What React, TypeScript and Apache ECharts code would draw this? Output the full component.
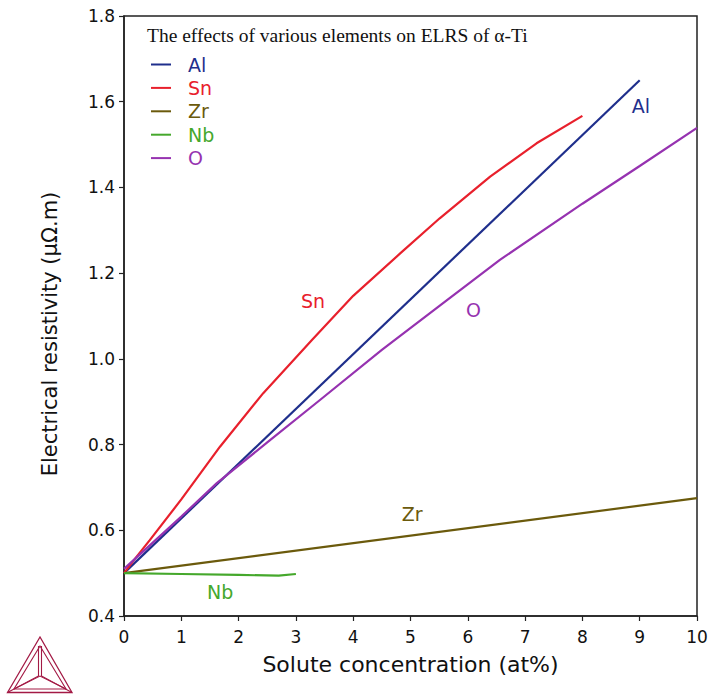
import React, { useEffect, useRef } from "react";
import * as echarts from "echarts";

const seriesNames = ["Al", "Sn", "Zr", "Nb", "O"];
const seriesColors = ["#1f2f8c", "#e8202c", "#6b5a0c", "#45a82c", "#9632b0"];

const alX = [0, 9];
const alY = [0.5, 1.65];
const snX = [0, 0.2, 0.45, 1, 1.675, 2.43, 3.28, 4.0, 4.82, 5.51, 6.39, 7.2, 8.0];
const snY = [0.5, 0.535, 0.577, 0.672, 0.795, 0.92, 1.044, 1.147, 1.246, 1.328, 1.425, 1.503, 1.567];
const zrX = [0, 10];
const zrY = [0.5, 0.675];
const nbX = [0, 1, 2, 2.7, 3];
const nbY = [0.5, 0.498, 0.496, 0.494, 0.498];
const oX = [0, 1, 1.62, 2.5, 3.42, 4.5, 5.5, 6.56, 8, 9, 10];
const oY = [0.51, 0.632, 0.71, 0.805, 0.904, 1.021, 1.123, 1.231, 1.362, 1.45, 1.539];

// label anchor positions (data coords) for in-plot line labels
const labelX = [9.02, 3.3, 5.03, 1.68, 6.1];
const labelY = [1.59, 1.135, 0.638, 0.456, 1.114];

const xTicks = [0, 1, 2, 3, 4, 5, 6, 7, 8, 9, 10];
const yTicks = [0.4, 0.6, 0.8, 1.0, 1.2, 1.4, 1.6, 1.8];

const titleText = "The effects of various elements on ELRS of α-Ti";
const xName = "Solute concentration (at%)";
const yName = "Electrical resistivity (µΩ.m)";

const FONT = "DejaVu Sans";

function zip(xs: number[], ys: number[]) {
  return xs.map((x, i) => [x, ys[i]]);
}

export default function App() {
  const ref = useRef<HTMLDivElement>(null);
  useEffect(() => {
    if (!ref.current) return;
    const chart = echarts.init(ref.current, undefined, { renderer: "svg" });
    const xs = [alX, snX, zrX, nbX, oX];
    const ys = [alY, snY, zrY, nbY, oY];
    const logo = "#a31a45";
    const option: any = {
      animation: false,
      backgroundColor: "#ffffff",
      title: {
        text: titleText,
        left: 147,
        top: 25,
        padding: 0,
        textStyle: {
          fontFamily: "Liberation Serif",
          fontWeight: "normal",
          fontSize: 19.5,
          color: "#111",
        },
      },
      legend: {
        orient: "vertical",
        left: 151,
        top: 55,
        padding: 0,
        itemWidth: 20,
        itemHeight: 2,
        itemGap: 4.4,
        icon: "rect",
        data: seriesNames.map((n, i) => ({
          name: n,
          textStyle: { color: seriesColors[i] },
        })),
        textStyle: {
          fontFamily: FONT,
          fontSize: 19,
          padding: [0, 0, 0, 12],
        },
      },
      grid: {
        left: 124,
        top: 16,
        right: 14,
        bottom: 78,
        show: true,
        borderColor: "#222",
        borderWidth: 1.5,
        containLabel: false,
      },
      xAxis: {
        type: "value",
        min: 0,
        max: 10,
        interval: 1,
        name: xName,
        nameLocation: "middle",
        nameGap: 37,
        nameTextStyle: { fontFamily: FONT, fontSize: 22, color: "#111" },
        axisLine: { show: true, lineStyle: { color: "#222", width: 1.5 } },
        axisTick: { show: true, length: 5, lineStyle: { color: "#222", width: 1.2 } },
        axisLabel: {
          fontFamily: FONT,
          fontSize: 17,
          color: "#111",
          margin: 12,
          formatter: (v: number) => (xTicks.includes(v) ? String(v) : ""),
        },
        splitLine: { show: false },
      },
      yAxis: {
        type: "value",
        min: 0.4,
        max: 1.8,
        interval: 0.2,
        name: yName,
        nameLocation: "middle",
        nameGap: 64,
        nameTextStyle: {
          fontFamily: FONT,
          fontSize: 21,
          color: "#111",
          padding: [0, 36, 0, 0],
        },
        axisLine: { show: true, lineStyle: { color: "#222", width: 1.5 } },
        axisTick: { show: true, length: 5, lineStyle: { color: "#222", width: 1.2 } },
        axisLabel: {
          fontFamily: FONT,
          fontSize: 17,
          color: "#111",
          margin: 9,
          formatter: (v: number) => {
            const t = yTicks.find((y) => Math.abs(y - v) < 1e-6);
            return t !== undefined ? t.toFixed(1) : "";
          },
        },
        splitLine: { show: false },
      },
      series: seriesNames.map((n, i) => ({
        name: n,
        type: "line",
        data: zip(xs[i], ys[i]),
        showSymbol: false,
        symbol: "none",
        smooth: false,
        lineStyle: { color: seriesColors[i], width: 2.2 },
        itemStyle: { color: seriesColors[i] },
        z: 3,
        markPoint: {
          symbol: "rect",
          symbolSize: 1,
          itemStyle: { color: "rgba(0,0,0,0)" },
          label: {
            show: true,
            position: "inside",
            formatter: n,
            fontFamily: FONT,
            fontSize: 19,
            color: seriesColors[i],
          },
          data: [{ coord: [labelX[i], labelY[i]] }],
        },
      })),
      graphic: [
        {
          type: "polygon",
          shape: { points: [[40, 637], [7.5, 692.5], [72, 692.5]] },
          style: { fill: "none", stroke: logo, lineWidth: 1.3 },
        },
        {
          type: "polygon",
          shape: { points: [[40, 646], [14, 689], [66, 689]] },
          style: { fill: "none", stroke: logo, lineWidth: 1.1 },
        },
        {
          type: "polyline",
          shape: { points: [[38.5, 646], [38.5, 676], [7.5, 692.5]] },
          style: { fill: "none", stroke: logo, lineWidth: 1.1 },
        },
        {
          type: "polyline",
          shape: { points: [[41.5, 646], [41.5, 676], [72, 692.5]] },
          style: { fill: "none", stroke: logo, lineWidth: 1.1 },
        },
        {
          type: "polyline",
          shape: { points: [[14, 689], [40, 676], [66, 689]] },
          style: { fill: "none", stroke: logo, lineWidth: 1.1 },
        },
      ],
    };
    chart.setOption(option);
    return () => chart.dispose();
  }, []);
  return <div ref={ref} style={{ width: 711, height: 694, position: "absolute", left: 0, top: 0 }} />;
}
